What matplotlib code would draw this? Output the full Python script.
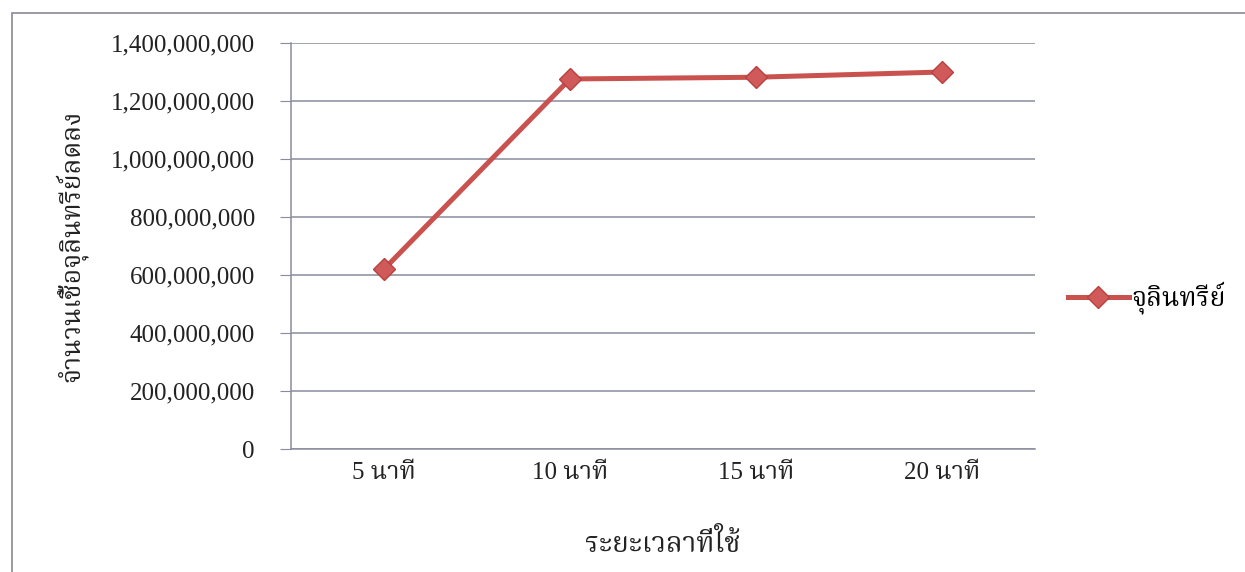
import matplotlib
matplotlib.use('Agg')
import matplotlib.pyplot as plt
from matplotlib.patches import Rectangle
from matplotlib.ticker import FuncFormatter

plt.rcParams['font.family'] = ['Liberation Serif', 'Noto Serif Thai', 'Sarabun', 'Noto Sans Thai', 'DejaVu Sans']

# ข้อมูล: จำนวนเชื้อจุลินทรีย์ที่ลดลงตามเวลา
categories = ['5 นาที', '10 นาที', '15 นาที', '20 นาที']
microbes = [620000000, 1276000000, 1282000000, 1300000000]
series_name = 'จุลินทรีย์'
yticks = [0, 200000000, 400000000, 600000000, 800000000, 1000000000, 1200000000, 1400000000]

fig = plt.figure(figsize=(12.45, 5.72), dpi=100)
ax = fig.add_axes([0.2337, 0.215, 0.5976, 0.7098])

# กรอบรอบแผนภูมิ
fig.patches.append(Rectangle((0.0096, -0.01), 1.05, 0.988, transform=fig.transFigure,
                             fill=False, edgecolor='#8a8a95', linewidth=1.2))

x = range(len(categories))
ax.plot(x, microbes, color='#c9514e', linewidth=3.6, marker='D', markersize=11,
        markerfacecolor='#d0595a', markeredgecolor='#b8403e', markeredgewidth=1,
        label=series_name, zorder=3)

ax.set_xlim(-0.5, len(categories) - 0.5)
ax.set_ylim(0, 1400000000)
ax.set_yticks(yticks)
ax.yaxis.set_major_formatter(FuncFormatter(lambda v, p: f'{int(v):,}'))
ax.set_xticks(list(x))
ax.set_xticklabels(categories)

ax.grid(axis='y', color='#8a8c9c', linewidth=1.1)
ax.set_axisbelow(True)
for s in ['top', 'right']:
    ax.spines[s].set_visible(False)
ax.spines['left'].set_color('#8a8c9c')
ax.spines['bottom'].set_color('#8a8c9c')
ax.spines['left'].set_linewidth(1.1)
ax.spines['bottom'].set_linewidth(1.1)

ax.tick_params(axis='y', length=8, color='#8a8c9c', labelsize=18, pad=18, colors='#222222')
ax.tick_params(axis='x', length=0, labelsize=18, pad=9, colors='#222222')

ax.set_xlabel('ระยะเวลาที่ใช้', fontsize=20, labelpad=33, color='#222222')
ax.set_ylabel('จำนวนเชื้อจุลินทรีย์ลดลง', fontsize=19, labelpad=16, color='#222222')

ax.legend(loc='center left', bbox_to_anchor=(1.03, 0.37), frameon=False, fontsize=19,
          handlelength=2.3, handletextpad=0.1, borderaxespad=0)

fig.savefig('out.png', dpi=100)
